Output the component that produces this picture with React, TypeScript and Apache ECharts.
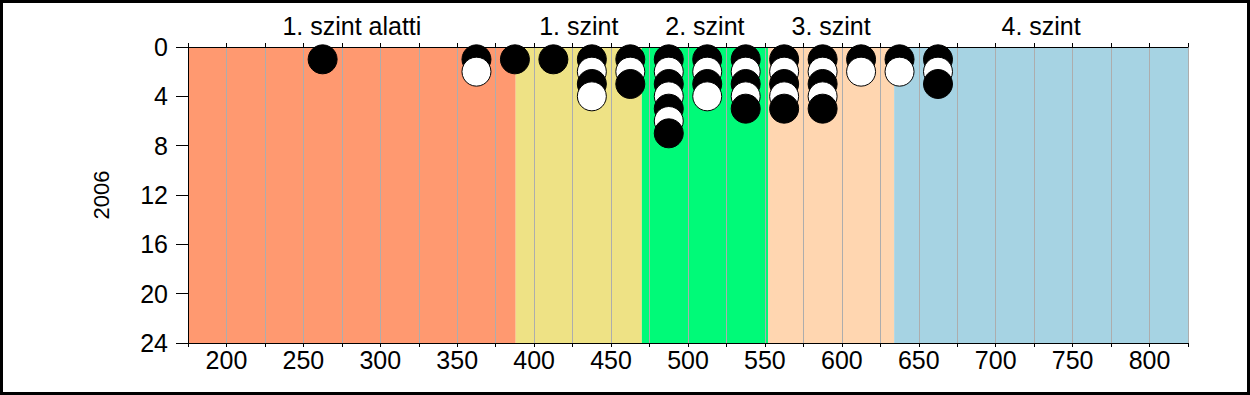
import React, { useEffect, useRef } from 'react';
import * as echarts from 'echarts';

// ---- data ----
const levelNames = ['1. szint alatti', '1. szint', '2. szint', '3. szint', '4. szint'];
const levelBounds = [175, 388, 470, 552, 634, 825];
const levelColors = ['#FF9970', '#EEE285', '#00FA78', '#FFD6B0', '#A6D3E3'];

// centre of each score bin and the number of schools stacked in it
const columnScores = [262.5, 362.5, 387.5, 412.5, 437.5, 462.5, 487.5, 512.5, 537.5, 562.5, 587.5, 612.5, 637.5, 662.5];
const columnCounts = [1, 2, 1, 1, 4, 3, 7, 4, 5, 5, 5, 2, 2, 3];

const yAxisName = '2006';
const xMin = 175;
const xMax = 825;
const yMin = 0;
const yMax = 24;

const FONT = '"Liberation Sans", Arial, sans-serif';
const FS = 25;

export default function App() {
  const ref = useRef<HTMLDivElement>(null);

  useEffect(() => {
    if (!ref.current) return;
    const chart = echarts.init(ref.current, null, { renderer: 'svg' });

    const points: any[] = [];
    columnScores.forEach((x, i) => {
      for (let k = 1; k <= columnCounts[i]; k++) {
        const black = k % 2 === 1;
        points.push({
          value: [x, k],
          itemStyle: { color: black ? '#000000' : '#FFFFFF', borderColor: '#000000', borderWidth: 1, opacity: 1 },
        });
      }
    });

    const bandData = levelNames.map((n, i) => [
      { name: n, xAxis: levelBounds[i], itemStyle: { color: levelColors[i], opacity: 1 } },
      { xAxis: levelBounds[i + 1] },
    ]);

    chart.setOption({
      animation: false,
      backgroundColor: '#FFFFFF',
      textStyle: { fontFamily: FONT },
      grid: { left: 188, right: 62, top: 47, bottom: 52, containLabel: false, outerBoundsMode: 'none' },
      xAxis: [
        {
          type: 'value',
          position: 'bottom',
          min: xMin,
          max: xMax,
          interval: 25,
          z: 3,
          axisLine: { show: true, onZero: false, lineStyle: { color: '#000', width: 1 } },
          axisTick: { show: true, length: 4, lineStyle: { color: '#000' } },
          axisLabel: {
            fontSize: FS,
            color: '#000',
            margin: 4,
            fontFamily: FONT,
            formatter: (v: number) => (v % 50 === 0 ? String(v) : ''),
          },
          splitLine: { show: true, lineStyle: { color: '#ADADAD', width: 1 } },
        },
        {
          type: 'value',
          position: 'top',
          min: xMin,
          max: xMax,
          interval: 25,
          z: 3,
          axisLine: { show: true, onZero: false, lineStyle: { color: '#000', width: 1 } },
          axisTick: { show: true, length: 4, lineStyle: { color: '#000' } },
          axisLabel: { show: false },
          splitLine: { show: false },
        },
      ],
      yAxis: {
        type: 'value',
        inverse: true,
        min: yMin,
        max: yMax,
        interval: 4,
        z: 4,
        name: yAxisName,
        nameLocation: 'middle',
        nameGap: 76,
        nameTextStyle: { fontSize: 22, color: '#000', fontFamily: FONT },
        axisLine: { show: true, onZero: false, lineStyle: { color: '#000', width: 1 } },
        axisTick: { show: true, length: 12, lineStyle: { color: '#000' } },
        axisLabel: { fontSize: FS, color: '#000', margin: 20, fontFamily: FONT },
        splitLine: { show: false },
      },
      series: [
        {
          type: 'scatter',
          xAxisIndex: 0,
          data: [],
          z: 1,
          silent: true,
          markArea: {
            silent: true,
            label: { show: true, position: 'top', distance: 9, fontSize: FS, color: '#000', fontFamily: FONT },
            data: bandData,
          },
        },
        {
          type: 'scatter',
          xAxisIndex: 0,
          z: 5,
          clip: false,
          symbol: 'circle',
          symbolSize: 29,
          itemStyle: { opacity: 1 },
          data: points,
        },
      ],
      graphic: [
        {
          type: 'rect',
          z: 100,
          silent: true,
          shape: { x: 1.5, y: 1.5, width: 1247, height: 392 },
          style: { fill: 'none', stroke: '#000', lineWidth: 3 },
        },
      ],
    });

    return () => chart.dispose();
  }, []);

  return (
    <div
      ref={ref}
      style={{ position: 'absolute', left: 0, top: 0, width: 1250, height: 395, background: '#fff' }}
    />
  );
}
